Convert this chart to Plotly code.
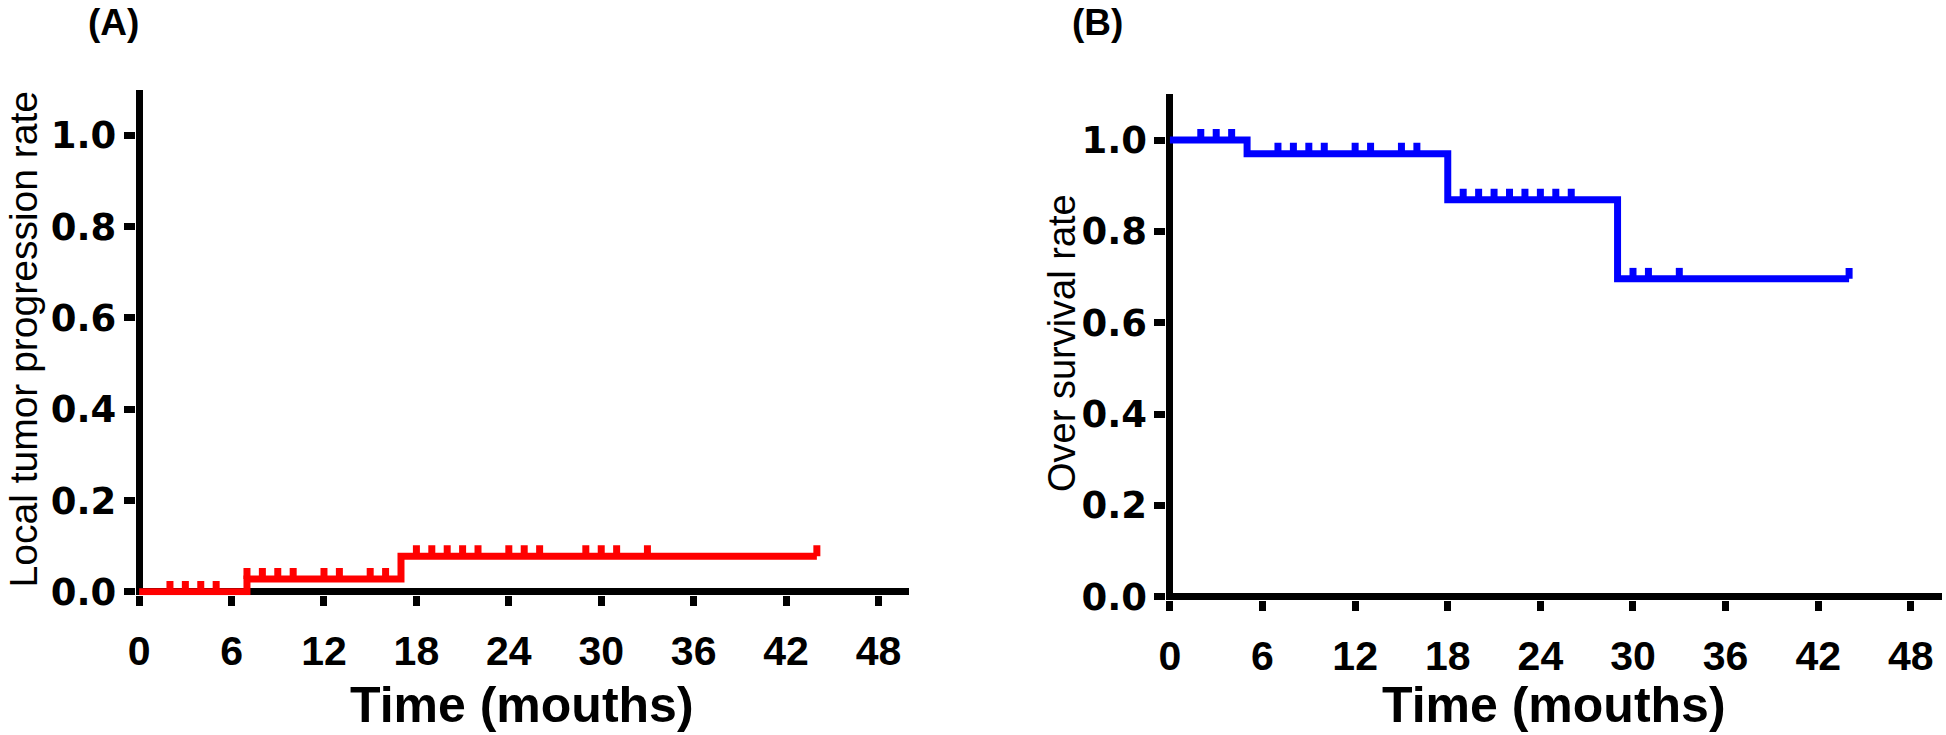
import numpy as np
import plotly.graph_objects as go

# ---------------- data ----------------
# Panel A: local tumor progression (cumulative rate, step function)
ltp_step_times = [0, 7, 17, 44]
ltp_step_values = [0.0, 0.028, 0.078, 0.078]
ltp_censor_times = [2, 3, 4, 5, 7, 8, 9, 10, 12, 13, 15, 16,
                    18, 19, 20, 21, 22, 24, 25, 26, 29, 30, 31, 33, 44]

# Panel B: overall survival (step function)
os_step_times = [0, 5, 18, 29, 44]
os_step_values = [1.0, 0.970, 0.869, 0.696, 0.696]
os_censor_times = [2, 3, 4, 7, 8, 9, 10, 12, 13, 15, 16,
                   19, 20, 21, 22, 23, 24, 25, 26, 30, 31, 33, 44]

x_tick_values = [0, 6, 12, 18, 24, 30, 36, 42, 48]
y_tick_values = [0.0, 0.2, 0.4, 0.6, 0.8, 1.0]
y_tick_labels = ["0.0", "0.2", "0.4", "0.6", "0.8", "1.0"]

x_title = "Time (mouths)"
y_title_a = "Local tumor progression rate"
y_title_b = "Over survival rate"
panel_a = "(A)"
panel_b = "(B)"

RED = "#FF0000"
BLUE = "#0000FF"

# ---------------- helpers ----------------
W, H = 1946, 735
LINE_W = 7
CENSOR_H = 0.024  # tick height in data units


def step_at(times, values, t):
    idx = np.searchsorted(np.asarray(times), np.asarray(t), side="right") - 1
    return np.asarray(values)[idx]


fig = go.Figure()


def add_panel(times, values, censors, color, xa, ya):
    fig.add_trace(go.Scatter(
        x=times, y=values, mode="lines", line=dict(color=color, width=LINE_W, shape="hv"),
        xaxis=xa, yaxis=ya, showlegend=False, hoverinfo="skip"))
    cy = step_at(times, values, censors)
    fig.add_trace(go.Scatter(
        x=censors, y=cy, mode="markers",
        marker=dict(size=1, color="rgba(0,0,0,0)"),
        error_y=dict(type="data", symmetric=False,
                     array=[CENSOR_H] * len(censors), arrayminus=[0] * len(censors),
                     thickness=LINE_W, width=0, color=color),
        xaxis=xa, yaxis=ya, showlegend=False, hoverinfo="skip"))


add_panel(ltp_step_times, ltp_step_values, ltp_censor_times, RED, "x", "y")
add_panel(os_step_times, os_step_values, os_censor_times, BLUE, "x2", "y2")


def px_x(p):
    return p / W


def px_y(p):
    return 1 - p / H


xdom_a = [px_x(128.2), px_x(905)]
ydom_a = [px_y(610.2), px_y(92)]
xdom_b = [px_x(1163.2), px_x(1941.7)]
ydom_b = [px_y(615.2), px_y(96.7)]

x_range = [-0.226, 50]
y_range = [-0.0075, 1.1]

xtickfont = dict(family="Liberation Sans, Arial", size=41, color="black", weight="bold")
ytickfont = dict(family="DejaVu Sans", size=37, color="black", weight="bold")

common_x = dict(range=x_range, tickvals=x_tick_values, ticks="outside", ticklen=10,
                tickwidth=LINE_W, tickcolor="black", showgrid=False, showline=False,
                zeroline=True, zerolinewidth=LINE_W, zerolinecolor="black",
                tickfont=xtickfont, ticklabelstandoff=10, fixedrange=True)
common_y = dict(range=y_range, tickvals=y_tick_values, ticktext=y_tick_labels,
                ticks="outside", ticklen=11, tickwidth=LINE_W, tickcolor="black",
                showgrid=False, showline=False, zeroline=True, zerolinewidth=LINE_W,
                zerolinecolor="black", tickfont=ytickfont, fixedrange=True)

fig.update_layout(
    width=W, height=H, autosize=False,
    margin=dict(l=0, r=0, t=0, b=0),
    paper_bgcolor="white", plot_bgcolor="white",
    xaxis=dict(domain=xdom_a, anchor="y", **common_x),
    yaxis=dict(domain=ydom_a, anchor="x", **common_y),
    xaxis2=dict(domain=xdom_b, anchor="y2", **common_x),
    yaxis2=dict(domain=ydom_b, anchor="x2", **common_y),
)

title_font = dict(family="Liberation Sans, Arial", size=50, color="black", weight="bold")
ytitle_font_a = dict(family="Liberation Sans, Arial", size=39, color="black")
ytitle_font_b = dict(family="Liberation Sans, Arial", size=38, color="black")
panel_font = dict(family="Liberation Sans, Arial", size=37, color="black", weight="bold")

annots = [
    dict(text=x_title, x=(xdom_a[0] + xdom_a[1]) / 2, y=px_y(723), font=title_font),
    dict(text=x_title, x=(xdom_b[0] + xdom_b[1]) / 2, y=px_y(723), font=title_font),
    dict(text=y_title_a, x=px_x(16), y=px_y(348), font=ytitle_font_a, textangle=-90),
    dict(text=y_title_b, x=px_x(1059), y=px_y(352), font=ytitle_font_b, textangle=-90),
    dict(text=panel_a, x=px_x(106), y=px_y(23), font=panel_font),
    dict(text=panel_b, x=px_x(1094), y=px_y(23), font=panel_font),
]
for a in annots:
    fig.add_annotation(xref="paper", yref="paper", showarrow=False,
                       xanchor="center", yanchor="middle", **a)

# remove the default page margin so the figure sits at the window origin
fig.write_html("out.html", config={"displayModeBar": False},
               post_script="document.body.style.margin='0';")
